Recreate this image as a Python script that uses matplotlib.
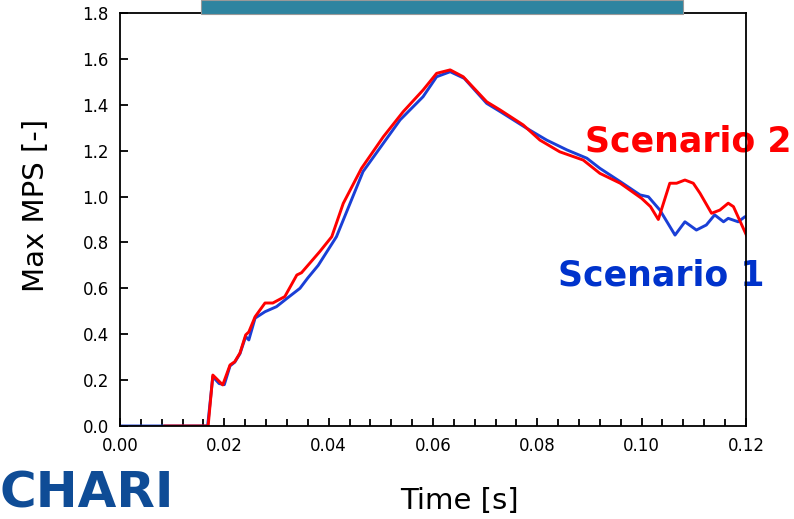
# Max MPS vs time, two scenarios
import numpy as np
import matplotlib.pyplot as plt
from matplotlib.patches import Rectangle
from matplotlib.ticker import MultipleLocator

plt.rcParams['font.family'] = ['DejaVu Sans']

# scenario 1 (blue)
t1 = [0.0, 0.0168, 0.0178, 0.0190, 0.0200, 0.0211, 0.0220, 0.0230, 0.0241, 0.0247, 0.0259,
      0.0278, 0.0300, 0.0320, 0.0345, 0.0360, 0.0380, 0.0415, 0.0466, 0.0537, 0.0581,
      0.0607, 0.0633, 0.0660, 0.0703, 0.0729, 0.0780, 0.0818, 0.0857, 0.0895, 0.0920,
      0.0959, 0.0997, 0.1013, 0.1035, 0.1064, 0.1083, 0.1105, 0.1124, 0.1140, 0.1157,
      0.1166, 0.1185, 0.1198, 0.1205]
v1 = [0.0, 0.0, 0.215, 0.185, 0.180, 0.262, 0.278, 0.315, 0.390, 0.375, 0.470,
      0.498, 0.520, 0.556, 0.600, 0.645, 0.700, 0.825, 1.109, 1.334, 1.435,
      1.522, 1.544, 1.515, 1.406, 1.370, 1.297, 1.246, 1.203, 1.167, 1.123,
      1.065, 1.007, 0.999, 0.941, 0.832, 0.890, 0.854, 0.876, 0.920, 0.890,
      0.905, 0.890, 0.912, 0.913]

# scenario 2 (red)
t2 = [0.0086, 0.0169, 0.0178, 0.0197, 0.0211, 0.0220, 0.0230, 0.0241, 0.0247, 0.0259,
      0.0278, 0.0293, 0.0316, 0.0339, 0.0348, 0.0364, 0.0383, 0.0406, 0.0428, 0.0463,
      0.0505, 0.0543, 0.0581, 0.0607, 0.0633, 0.0658, 0.0703, 0.0729, 0.0773, 0.0805,
      0.0843, 0.0888, 0.0920, 0.0959, 0.1000, 0.1017, 0.1032, 0.1054, 0.1067, 0.1083,
      0.1099, 0.1112, 0.1134, 0.1150, 0.1166, 0.1176, 0.1192, 0.1205]
v2 = [0.0, 0.0, 0.222, 0.179, 0.266, 0.280, 0.318, 0.397, 0.410, 0.476,
      0.536, 0.536, 0.564, 0.658, 0.668, 0.710, 0.760, 0.825, 0.970, 1.123,
      1.261, 1.370, 1.464, 1.537, 1.552, 1.522, 1.413, 1.377, 1.312, 1.246,
      1.195, 1.159, 1.101, 1.058, 0.992, 0.956, 0.900, 1.058, 1.058, 1.072,
      1.058, 1.014, 0.927, 0.941, 0.971, 0.956, 0.876, 0.811]

fig = plt.figure(figsize=(7.94, 5.19), dpi=100, facecolor='white')
ax = fig.add_axes([0.1511, 0.1792, 0.7884, 0.7958])

ax.plot(t1, v1, color='#1A3FD6', linewidth=2.1, solid_joinstyle='round')
ax.plot(t2, v2, color='#FF0000', linewidth=2.1, solid_joinstyle='round')

ax.set_xlim(0, 0.12)
ax.set_ylim(0, 1.8)
ax.xaxis.set_major_locator(MultipleLocator(0.02))
ax.xaxis.set_minor_locator(MultipleLocator(0.004))
ax.yaxis.set_major_locator(MultipleLocator(0.2))
ax.set_xticklabels(['%.2f' % x for x in ax.get_xticks()])
ax.set_yticklabels(['%.1f' % y for y in ax.get_yticks()])
ax.tick_params(axis='both', which='both', direction='in', width=1.3, labelsize=12)
ax.tick_params(axis='both', which='major', length=6, pad=8)
ax.tick_params(axis='x', which='minor', length=5)
for s in ax.spines.values():
    s.set_linewidth(1.3)
    s.set_zorder(5)

ax.set_xlabel('Time [s]', fontsize=21)
ax.set_ylabel('Max MPS [-]', fontsize=21)
ax.xaxis.set_label_coords(0.543, -0.148)
ax.yaxis.set_label_coords(-0.112, 0.533)

ax.text(0.1287, 1.238, 'Scenario 2', color='#FF0000', fontsize=25, fontweight='bold',
        ha='right', va='center', clip_on=False, zorder=2)
ax.text(0.0840, 0.658, 'Scenario 1', color='#0033CC', fontsize=25, fontweight='bold',
        ha='left', va='center', clip_on=False, zorder=2)

# teal banner at top
fig.patches.append(Rectangle((201 / 794, 1 - 14 / 519), 482 / 794, 14 / 519,
                             transform=fig.transFigure, facecolor='#2E84A0',
                             edgecolor='#999999', linewidth=0.8, zorder=10))
# logo
fig.text(0.0, 1 - 517 / 519, 'CHARI', color='#0F4C96', fontsize=36,
         fontweight='bold', ha='left', va='bottom')

fig.savefig('out.png', dpi=100)
